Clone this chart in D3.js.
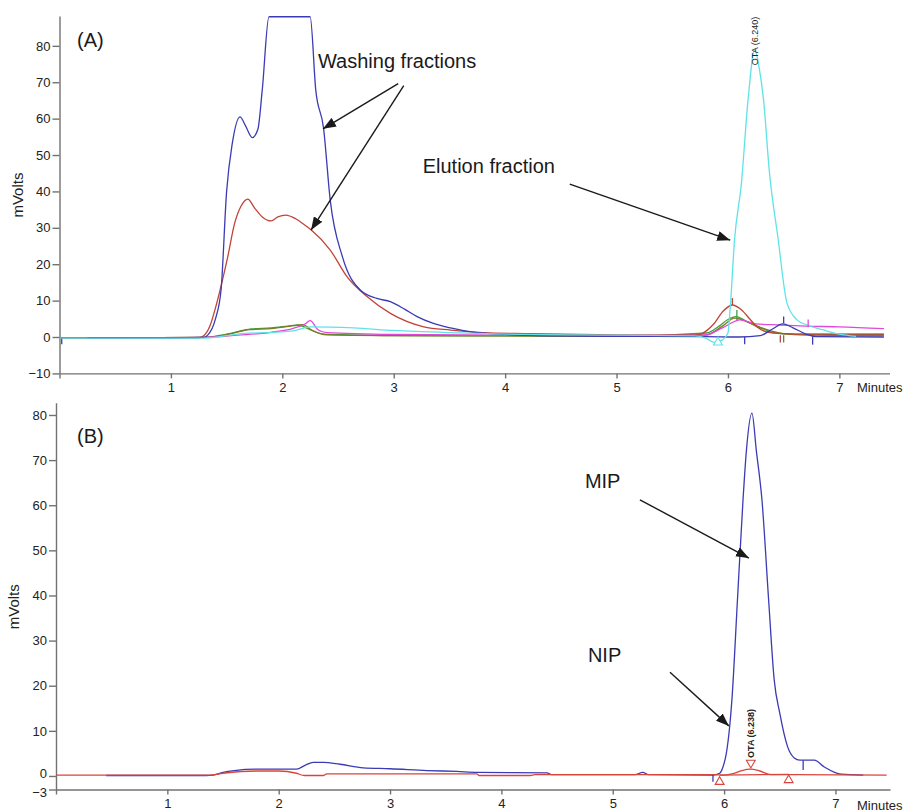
<!DOCTYPE html>
<html>
<head>
<meta charset="utf-8">
<title>OTA chromatograms</title>
<script src="https://cdnjs.cloudflare.com/ajax/libs/d3/7.8.5/d3.min.js"></script>
<style>
  html, body { margin: 0; padding: 0; background: #fff; }
  svg { display: block; font-family: "Liberation Sans", Arial, sans-serif; }
  .axis path, .axis line { stroke: #727272; stroke-width: 1.4px; }
  .axis text { fill: #222; font-size: 13px; }
  .trace { fill: none; stroke-width: 1.3px; stroke-linejoin: round; }
  .tick-mark { stroke-width: 1.3px; }
  .note { font-size: 20px; fill: #1a1a1a; }
  .arrow { stroke: #1a1a1a; stroke-width: 1.4px; }
  .unit { font-size: 13px; fill: #222; }
  .ylab { font-size: 15px; fill: #222; }
  .peak-label { font-size: 9px; fill: #222; }
</style>
</head>
<body>
<div id="chart"></div>
<script>
// ---- data (minutes, mV) ----
var xTicks = [0, 1, 2, 3, 4, 5, 6, 7];
var xTickLabels = ["", "1", "2", "3", "4", "5", "6", "7"];
var yTicksA = [-10, 0, 10, 20, 30, 40, 50, 60, 70, 80];
var yTicksB = [-3, 0, 10, 20, 30, 40, 50, 60, 70, 80];

// panel A: washing fractions + elution fraction
var wash1 = [[0.25,-0.2],[1.0,-0.2],[1.3,-0.1],[1.33,0.5],[1.4,5],[1.45,12.9],[1.5,40],[1.55,53],[1.62,60.5],[1.67,58],[1.73,54.8],[1.78,57],[1.82,67.9],[1.88,88],
  [2.25,88],[2.3,67.9],[2.37,57.4],[2.43,37.6],[2.54,22],[2.7,12.9],[2.85,10.6],[2.97,9.7],[3.1,7.6],[3.21,5.6],[3.35,3.8],[3.51,2.5],[3.7,1.4],[4.0,0.7],
  [4.5,0.3],[5.0,0.2],[5.8,0.1],[6.1,0],[6.29,0.4],[6.4,2.2],[6.49,3.6],[6.58,2.6],[6.7,0.8],[6.8,0.1],[7.4,0]];
var wash2 = [[0,-0.2],[1.25,-0.2],[1.3,0.5],[1.35,3],[1.4,8],[1.45,14],[1.51,22],[1.57,31],[1.63,36],[1.69,37.9],[1.75,35.5],[1.82,33],[1.9,31.9],
  [1.96,33],[2.03,33.5],[2.12,32.5],[2.2,30.8],[2.26,29.4],[2.43,23.9],[2.58,16.6],[2.76,11.1],[2.97,6.5],[3.27,2.8],[3.51,1.9],[3.8,1.2],[4.2,0.9],
  [5.0,0.6],[5.7,0.5],[5.77,1],[5.87,3.5],[5.96,7.2],[6.04,8.8],[6.12,7.5],[6.2,4.8],[6.26,2.8],[6.38,1.2],[6.6,0.8],[7.4,0.8]];
var wash3 = [[0,-0.2],[1.3,-0.1],[1.5,0.8],[1.72,2.2],[1.9,2.5],[2.05,3],[2.14,3.3],[2.25,2],[2.37,0.8],[2.6,0.6],[3.0,0.4],[4.0,0.3],[5.0,0.2],
  [5.81,1.1],[5.92,3],[6.0,4.8],[6.07,5.6],[6.15,4.6],[6.25,3],[6.35,1.8],[6.41,1.1],[6.6,0.8],[7.4,0.7]];
var wash4 = [[0,-0.2],[1.3,-0.1],[1.5,0.6],[1.7,2],[1.9,2.3],[2.1,3.1],[2.18,3.4],[2.28,1.6],[2.4,0.6],[3.0,0.4],[5.0,0.2],[5.8,0.5],[5.95,3],
  [6.06,5.2],[6.2,3.8],[6.35,2],[6.5,0.9],[6.7,0.5],[7.4,0.4]];
var wash5 = [[0,-0.2],[1.3,-0.1],[1.6,0.5],[1.9,1.3],[2.1,2.4],[2.2,3.5],[2.25,4.5],[2.32,2],[2.4,1.2],[3.0,0.7],[4.0,0.5],[5.0,0.4],[5.8,0.6],
  [5.95,2.5],[6.11,4.7],[6.25,3.6],[6.47,3.3],[6.7,3],[7.0,2.8],[7.4,2.3]];
var elution = [[0,-0.3],[1.3,-0.3],[1.6,0.8],[2.1,1.7],[2.25,2.8],[2.64,2.5],[3.0,1.8],[3.5,1.2],[4.0,0.8],[5.0,0.5],[5.7,0.3],[5.8,-0.3],[5.88,-1.5],
  [5.95,-0.8],[6.0,1.1],[6.02,8],[6.06,27],[6.12,42],[6.18,65],[6.24,79],[6.28,74],[6.32,65],[6.37,46],[6.45,27],[6.53,9.3],[6.62,4.7],
  [6.71,3.3],[6.85,2],[7.0,0.8],[7.15,0.2]];

// integration marks in panel A: series, time, from, to
var marksA = [
  ["wash1", 0.02, -0.5, -2], ["wash2", 6.04, 8.8, 10.7], ["wash3", 6.08, 4.7, 7.4], ["wash1", 6.15, 0, -2],
  ["wash1", 6.5, 3.8, 5.6], ["wash2", 6.47, 0.5, -1.5], ["wash4", 6.5, 0.5, -1.5], ["wash5", 6.72, 2.7, 4.8],
  ["wash1", 6.76, 0.2, -2.1]
];
var trianglesA = [["elution", 5.91, -1.5, "up"]];

// panel B: MIP and NIP elution
var mip = [[0.45,0.1],[1.35,0.1],[1.41,0.2],[1.5,0.8],[1.6,1.2],[1.8,1.5],[2.16,1.5],[2.24,2.4],[2.31,3.0],[2.4,3.0],[2.55,2.6],[2.76,1.8],
  [3.0,1.6],[3.33,1.2],[3.6,1.0],[3.78,0.8],[4.41,0.7],[4.45,0.3],[5.2,0.3],[5.27,0.8],[5.32,0.3],[5.9,0.2],[5.96,0.6],[5.99,2],[6.02,5],
  [6.05,10.9],[6.07,16.8],[6.12,39],[6.17,61.2],[6.2,72],[6.25,80.4],[6.29,72],[6.34,61.2],[6.4,39],[6.45,21.3],[6.5,13.9],[6.57,6.5],
  [6.63,4],[6.68,3.5],[6.81,3.5],[6.9,2],[7.05,0.4],[7.25,0.2]];
var nip = [[0,0.2],[1.38,0.2],[1.5,0.6],[1.8,1.1],[2.0,1.1],[2.16,0.6],[2.23,0.1],[2.4,0.1],[2.43,0.45],[3.78,0.45],[3.8,0.1],[4.26,0.1],
  [4.3,0.3],[5.9,0.3],[6.0,0.2],[6.08,0.5],[6.16,1.2],[6.24,1.5],[6.32,1.1],[6.42,0.3],[6.6,0.3],[7.46,0.2]];
var nipBaseline = [[5.96,0.2],[6.58,0.35]];
var marksB = [["mip", 5.9, 0.2, -1.3], ["mip", 6.71, 3.5, 1.3]];
var trianglesB = [["nip", 5.96, -1.3, "up"], ["nip", 6.24, 2.9, "down"], ["nip", 6.58, -0.9, "up"]];

var colors = {
  wash1: "#3b3bb5", wash2: "#c04438", wash3: "#3f9f3f", wash4: "#7c7a22",
  wash5: "#e048d8", elution: "#5fe3e8", mip: "#3b3bb5", nip: "#d9453c"
};

// ---- drawing ----
var width = 903, height = 812;
var svg = d3.select("#chart").append("svg")
            .attr("width", width)
            .attr("height", height);

svg.append("defs").append("marker")
   .attr("id", "head")
   .attr("markerUnits", "userSpaceOnUse")
   .attr("markerWidth", 14).attr("markerHeight", 10)
   .attr("refX", 13).attr("refY", 5)
   .attr("orient", "auto")
   .append("path")
   .attr("d", "M0,0 L13,5 L0,10 Z")
   .attr("fill", "#1a1a1a");

var line = function(x, y) {
  return d3.line()
           .x(function(d) { return x(d[0]); })
           .y(function(d) { return y(d[1]); })
           .curve(d3.curveMonotoneX);
};

var drawAxes = function(g, x, y, yTicks, xAxisY) {
  g.append("g").attr("class", "axis")
   .attr("transform", "translate(0," + xAxisY + ")")
   .call(d3.axisBottom(x).tickValues(xTicks)
           .tickFormat(function(d, i) { return xTickLabels[i]; })
           .tickSize(5).tickSizeOuter(0).tickPadding(4));
  return g.append("g").attr("class", "axis")
          .attr("transform", "translate(" + x.range()[0] + ",0)")
          .call(d3.axisLeft(y).tickValues(yTicks)
                  .tickSize(7).tickSizeOuter(0).tickPadding(2));
};

var drawMarks = function(g, x, y, marks) {
  g.selectAll(null).data(marks).enter().append("line")
   .attr("class", "tick-mark")
   .attr("stroke", function(d) { return colors[d[0]]; })
   .attr("x1", function(d) { return x(d[1]); })
   .attr("x2", function(d) { return x(d[1]); })
   .attr("y1", function(d) { return y(d[2]); })
   .attr("y2", function(d) { return y(d[3]); });
};

var drawTriangles = function(g, x, y, tris) {
  var sym = d3.symbol().type(d3.symbolTriangle).size(34);
  g.selectAll(null).data(tris).enter().append("path")
   .attr("d", sym)
   .attr("fill", "#fff")
   .attr("stroke", function(d) { return colors[d[0]]; })
   .attr("stroke-width", 1.1)
   .attr("transform", function(d) {
     return "translate(" + x(d[1]) + "," + y(d[2]) + ")" + (d[3] == "down" ? " rotate(180)" : "");
   });
};

var arrow = function(g, x, y, from, to) {
  g.append("line").attr("class", "arrow")
   .attr("x1", x(from[0])).attr("y1", y(from[1]))
   .attr("x2", x(to[0])).attr("y2", y(to[1]))
   .attr("marker-end", "url(#head)");
};

var note = function(g, x, y, at, txt) {
  g.append("text").attr("class", "note")
   .attr("x", x(at[0])).attr("y", y(at[1]))
   .text(txt);
};

// panel A
var xA = d3.scaleLinear().domain([0, 7.45]).range([59.5, 889.5]);
var yA = d3.scaleLinear().domain([-10, 88.2]).range([373.4, 16]);
var gA = svg.append("g");
drawAxes(gA, xA, yA, yTicksA, 373.4);

var seriesA = [["wash3", wash3], ["wash4", wash4], ["wash5", wash5], ["wash2", wash2], ["wash1", wash1], ["elution", elution]];
gA.selectAll(null).data(seriesA).enter().append("path")
  .attr("class", "trace")
  .attr("stroke", function(d) { return colors[d[0]]; })
  .attr("d", function(d) { return line(xA, yA)(d[1]); });
drawMarks(gA, xA, yA, marksA);
drawTriangles(gA, xA, yA, trianglesA);

gA.append("text").attr("class", "peak-label")
  .attr("transform", "translate(" + (xA(6.24) + 3) + "," + yA(74.7) + ") rotate(-90)")
  .text("OTA (6.240)");

note(gA, xA, yA, [0.157, 79.7], "(A)");
note(gA, xA, yA, [2.32, 73.9], "Washing fractions");
note(gA, xA, yA, [3.26, 45.1], "Elution fraction");
arrow(gA, xA, yA, [3.04, 69.6], [2.365, 57.2]);
arrow(gA, xA, yA, [3.09, 69.1], [2.258, 29.4]);
arrow(gA, xA, yA, [4.58, 42.0], [6.02, 26.6]);

gA.append("text").attr("class", "unit").attr("x", 857).attr("y", 392).text("Minutes");
gA.append("text").attr("class", "ylab")
  .attr("transform", "translate(23," + yA(39) + ") rotate(-90)")
  .attr("text-anchor", "middle").text("mVolts");

// panel B
var xB = d3.scaleLinear().domain([0, 7.49]).range([56, 890]);
var yB = d3.scaleLinear().domain([-3, 82.7]).range([789.5, 402.8]);
var gB = svg.append("g");
var yaxB = drawAxes(gB, xB, yB, yTicksB, 789.5);
// the 0 and -3 labels sit almost on top of each other; nudge them apart
yaxB.selectAll(".tick text").filter(function(d) { return d == 0; }).attr("dy", "0.15em");
yaxB.selectAll(".tick text").filter(function(d) { return d == -3; }).attr("dy", "0.55em");

var seriesB = [["mip", mip], ["nip", nip], ["nip", nipBaseline]];
gB.selectAll(null).data(seriesB).enter().append("path")
  .attr("class", "trace")
  .attr("stroke", function(d) { return colors[d[0]]; })
  .attr("d", function(d) { return line(xB, yB)(d[1]); });
drawMarks(gB, xB, yB, marksB);
drawTriangles(gB, xB, yB, trianglesB);

gB.append("text").attr("class", "peak-label")
  .attr("font-weight", "bold")
  .attr("transform", "translate(" + (xB(6.238) + 3) + "," + yB(4.0) + ") rotate(-90)")
  .text("OTA (6.238)");

note(gB, xB, yB, [0.189, 73.8], "(B)");
note(gB, xB, yB, [4.75, 63.8], "MIP");
note(gB, xB, yB, [4.777, 25.3], "NIP");
arrow(gB, xB, yB, [5.244, 61.2], [6.223, 48.3]);
arrow(gB, xB, yB, [5.514, 23.0], [6.043, 11.1]);

gB.append("text").attr("class", "unit").attr("x", 857).attr("y", 810).text("Minutes");
gB.append("text").attr("class", "ylab")
  .attr("transform", "translate(19," + yB(37.5) + ") rotate(-90)")
  .attr("text-anchor", "middle").text("mVolts");
</script>
</body>
</html>
